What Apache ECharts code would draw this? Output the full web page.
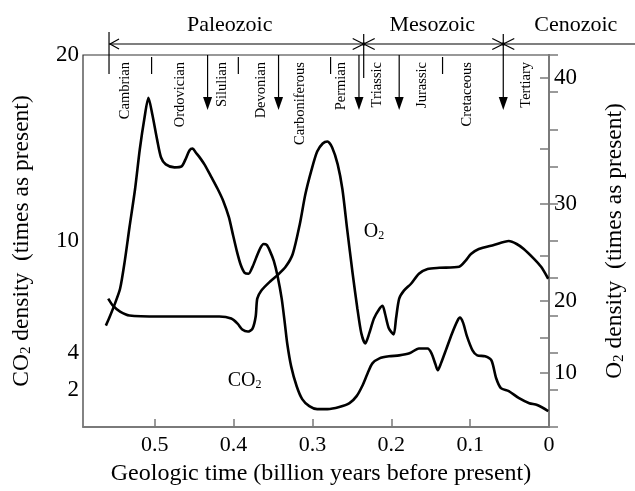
<!DOCTYPE html>
<html>
<head>
<meta charset="utf-8">
<script src="https://cdn.jsdelivr.net/npm/echarts@6/dist/echarts.min.js"></script>
<style>
  html, body { margin: 0; padding: 0; background: #fff; }
  #chart { width: 635px; height: 491px; }
</style>
</head>
<body>
<div id="chart"></div>
<script>
// Time axis: billion years before present
const co2Time = [0.562, 0.557, 0.551, 0.544, 0.538, 0.532, 0.525, 0.519, 0.513, 0.508, 0.503, 0.497, 0.492, 0.486,
  0.475, 0.466, 0.461, 0.456, 0.452, 0.448, 0.444, 0.437, 0.428, 0.420, 0.413, 0.406, 0.401, 0.396, 0.391, 0.386,
  0.381, 0.376, 0.371, 0.366, 0.362, 0.358, 0.354, 0.349, 0.344, 0.339, 0.335, 0.332, 0.327, 0.320, 0.313, 0.304,
  0.294, 0.281, 0.266, 0.253, 0.244, 0.237, 0.230, 0.224, 0.215, 0.203, 0.190, 0.177, 0.165, 0.154, 0.149, 0.144,
  0.141, 0.137, 0.130, 0.123, 0.116, 0.113, 0.109, 0.104, 0.097, 0.091, 0.081, 0.073, 0.067, 0.061, 0.051, 0.038,
  0.025, 0.015, 0.001];
const co2Value = [5.45, 5.94, 6.58, 7.43, 8.93, 10.75, 12.78, 14.92, 16.63, 17.70, 16.79, 15.45, 14.49, 14.12,
  13.96, 14.01, 14.39, 14.87, 14.97, 14.76, 14.55, 14.12, 13.42, 12.78, 12.14, 11.28, 10.37, 9.47, 8.72, 8.29,
  8.24, 8.61, 9.14, 9.63, 9.84, 9.79, 9.47, 8.93, 8.07, 6.90, 5.56, 4.49, 3.26, 2.19, 1.50, 1.12,
  0.96, 0.96, 1.07, 1.28, 1.66, 2.19, 2.89, 3.42, 3.69, 3.80, 3.85, 3.96, 4.22, 4.22, 3.96, 3.37,
  3.05, 3.42, 4.22, 5.03, 5.72, 5.88, 5.61, 4.87, 4.12, 3.85, 3.80, 3.58, 2.62, 2.09, 1.93, 1.55,
  1.28, 1.18, 0.86];

const o2Time = [0.559, 0.553, 0.544, 0.532, 0.494, 0.443, 0.418, 0.403, 0.395, 0.389, 0.382, 0.376, 0.372, 0.370,
  0.365, 0.354, 0.344, 0.334, 0.325, 0.316, 0.309, 0.301, 0.294, 0.287, 0.281, 0.275, 0.268, 0.262, 0.256, 0.249,
  0.243, 0.238, 0.233, 0.228, 0.222, 0.215, 0.211, 0.208, 0.203, 0.197, 0.194, 0.190, 0.184, 0.175, 0.165, 0.154,
  0.139, 0.114, 0.106, 0.099, 0.089, 0.070, 0.051, 0.041, 0.032, 0.019, 0.010, 0.001];
const o2Value = [20.23, 19.32, 18.51, 17.98, 17.85, 17.85, 17.85, 17.58, 16.89, 16.09, 15.81, 16.21, 17.85, 20.23,
  21.12, 22.12, 22.88, 23.78, 25.18, 28.08, 30.89, 33.13, 34.73, 35.36, 35.50, 35.08, 33.58, 31.34, 27.59, 23.01,
  18.91, 15.56, 14.17, 15.56, 17.58, 18.91, 19.32, 18.26, 16.21, 15.42, 17.58, 20.23, 21.12, 21.89, 23.01, 23.55,
  23.67, 23.78, 24.44, 25.18, 25.67, 26.06, 26.44, 26.15, 25.67, 24.67, 23.78, 22.45];

const timeTicks = [0, 0.1, 0.2, 0.3, 0.4, 0.5];
const co2TickLabels = [2, 4, 10, 20];
const o2TickLabels = [10, 20, 30, 40];
const o2TickMarks = [10, 15, 20, 25, 30, 35, 40];

// The O2 axis is drawn on a stretched scale: O2 value -> position on the shared 0–20 frame
const o2ScaleValue = [0, 10, 15, 20, 25, 30, 35, 40, 41.6];
const o2ScalePos = [0, 2.89, 4.81, 6.79, 9.2, 11.98, 14.97, 18.77, 20];

// Geologic eras and periods
const eraNames = ['Paleozoic', 'Mesozoic', 'Cenozoic'];
const eraStart = [0.558, 0.235, 0.058];
const eraLabelTime = [0.405, 0.148, -0.034];
const periodNames = ['Cambrian', 'Ordovician', 'Silulian', 'Devonian', 'Carboniferous', 'Permian',
  'Triassic', 'Jurassic', 'Cretaceous', 'Tertiary'];
const periodLabelTime = [0.537, 0.468, 0.415, 0.365, 0.316, 0.263, 0.218, 0.161, 0.104, 0.029];
const boundaryTime = [0.504, 0.433, 0.394, 0.343, 0.277, 0.241, 0.190, 0.135, 0.058];
const boundaryKind = ['tick', 'arrow', 'tick', 'arrow', 'tick', 'arrow', 'arrow', 'tick', 'arrow'];

function interp(xs, ys, v) {
  for (let i = 1; i < xs.length; i++) {
    if (v <= xs[i] || i === xs.length - 1) {
      const f = (v - xs[i - 1]) / (xs[i] - xs[i - 1]);
      return ys[i - 1] + f * (ys[i] - ys[i - 1]);
    }
  }
  return ys[ys.length - 1];
}
const o2ToPos = v => interp(o2ScaleValue, o2ScalePos, v);
const posToO2 = p => interp(o2ScalePos, o2ScaleValue, p);

const SERIF = '"Liberation Serif", "DejaVu Serif", serif';
const AXIS_GREY = '#7a7a7a';

const subRich = size => ({
  t: { fontFamily: SERIF, fontSize: size, color: '#000', verticalAlign: 'middle' },
  s: { fontFamily: SERIF, fontSize: Math.round(size * 0.62), color: '#000', verticalAlign: 'bottom' }
});

const chart = echarts.init(document.getElementById('chart'), null, { renderer: 'canvas' });

const option = {
  animation: false,
  backgroundColor: '#fff',
  grid: { left: 83, right: 85, top: 55, bottom: 62, show: true, borderColor: '#333', borderWidth: 1.2 },
  xAxis: {
    type: 'value', inverse: true, min: 0, max: 0.591,
    axisLine: { lineStyle: { color: AXIS_GREY, width: 2 } },
    axisTick: { inside: true, length: 8, customValues: timeTicks, lineStyle: { color: AXIS_GREY, width: 1.5 } },
    axisLabel: {
      customValues: timeTicks, margin: 7, color: '#000', fontFamily: SERIF, fontSize: 22,
      formatter: v => (v === 0 ? '0' : v.toFixed(1))
    },
    splitLine: { show: false },
    name: 'Geologic time (billion years before present)',
    nameLocation: 'middle', nameGap: 35,
    nameTextStyle: { fontFamily: SERIF, fontSize: 24, color: '#000', padding: [0, 0, 0, 10] }
  },
  yAxis: [
    {
      type: 'value', min: 0, max: 20, interval: 2, position: 'left',
      axisLine: { show: true, lineStyle: { color: AXIS_GREY, width: 2 } },
      axisTick: { show: true, inside: true, length: 9, lineStyle: { color: AXIS_GREY, width: 1.5 } },
      axisLabel: {
        margin: 4, color: '#000', fontFamily: SERIF, fontSize: 23,
        formatter: v => (co2TickLabels.indexOf(v) >= 0 ? String(v) : '')
      },
      splitLine: { show: false },
      name: '{t|CO}{s|2}{t| density  (times as present)}',
      nameLocation: 'middle', nameRotate: 90, nameGap: 49,
      nameTextStyle: { rich: subRich(23.5) }
    },
    {
      type: 'value', min: 0, max: 20, position: 'right',
      axisLine: { show: true, lineStyle: { color: AXIS_GREY, width: 2 } },
      axisTick: { show: true, inside: true, length: 9, customValues: o2TickMarks.map(o2ToPos),
        lineStyle: { color: AXIS_GREY, width: 1.5 } },
      axisLabel: {
        customValues: o2TickLabels.map(o2ToPos), margin: 5, color: '#000', fontFamily: SERIF, fontSize: 23,
        formatter: v => String(Math.round(posToO2(v)))
      },
      splitLine: { show: false },
      name: '{t|O}{s|2}{t| density  (times as present)}',
      nameLocation: 'middle', nameRotate: 90, nameGap: 54,
      nameTextStyle: { rich: subRich(23.5) }
    }
  ],
  series: [
    {
      name: 'CO2', type: 'line', yAxisIndex: 0, showSymbol: false, smooth: 0.25,
      lineStyle: { color: '#000', width: 2.6 },
      data: co2Time.map((t, i) => [t, co2Value[i]])
    },
    {
      name: 'O2', type: 'line', yAxisIndex: 1, showSymbol: false, smooth: 0.25,
      lineStyle: { color: '#000', width: 2.6 },
      data: o2Time.map((t, i) => [t, o2ToPos(o2Value[i])])
    }
  ]
};
chart.setOption(option);

// Era / period header drawn above the plot frame
const px = t => chart.convertToPixel({ xAxisIndex: 0 }, t);
const frameTop = chart.convertToPixel({ yAxisIndex: 0 }, 20);
const eraY = frameTop - 11;
const black = { stroke: '#000', lineWidth: 1.2 };
const g = [];

g.push({ type: 'line', shape: { x1: px(eraStart[0]), y1: eraY, x2: 635, y2: eraY }, style: black });
g.push({ type: 'polyline', shape: { points: [[px(eraStart[0]) + 10, eraY - 5], [px(eraStart[0]) + 1, eraY], [px(eraStart[0]) + 10, eraY + 5]] }, style: black });
g.push({ type: 'line', shape: { x1: px(eraStart[0]), y1: eraY - 12, x2: px(eraStart[0]), y2: frameTop + 19 }, style: black });
for (let i = 1; i < eraStart.length; i++) {
  const x = px(eraStart[i]);
  g.push({ type: 'line', shape: { x1: x - 11, y1: eraY - 5.5, x2: x + 11, y2: eraY + 5.5 }, style: black });
  g.push({ type: 'line', shape: { x1: x - 11, y1: eraY + 5.5, x2: x + 11, y2: eraY - 5.5 }, style: black });
  g.push({ type: 'circle', shape: { cx: x, cy: eraY, r: 1.8 }, style: { fill: '#000' } });
  if (boundaryTime.indexOf(eraStart[i]) < 0) {
    g.push({ type: 'line', shape: { x1: x, y1: eraY - 10, x2: x, y2: frameTop + 23 }, style: black });
  }
}
eraNames.forEach((name, i) => {
  g.push({ type: 'text', x: px(eraLabelTime[i]), y: 25,
    style: { text: name, fontFamily: SERIF, fontSize: 22, fill: '#000', align: 'center', verticalAlign: 'middle' } });
});

boundaryTime.forEach((t, i) => {
  const x = px(t);
  if (boundaryKind[i] === 'tick') {
    g.push({ type: 'line', shape: { x1: x, y1: frameTop + 2, x2: x, y2: frameTop + 19 }, style: black });
  } else {
    const startY = eraStart.indexOf(t) > 0 ? eraY - 10 : frameTop;
    g.push({ type: 'line', shape: { x1: x, y1: startY, x2: x, y2: frameTop + 44 }, style: black });
    g.push({ type: 'polygon', shape: { points: [[x - 4.5, frameTop + 42], [x + 4.5, frameTop + 42], [x, frameTop + 55]] },
      style: { fill: '#000' } });
  }
});

periodNames.forEach((name, i) => {
  g.push({ type: 'text', x: px(periodLabelTime[i]), y: frameTop + 7, rotation: Math.PI / 2,
    style: { text: name, fontFamily: SERIF, fontSize: 14.5, fill: '#000', align: 'right', verticalAlign: 'middle' } });
});

// Curve names placed next to their lines
const o2Pos = chart.convertToPixel({ gridIndex: 0 }, [0.222, 10.5]);
const co2Pos = chart.convertToPixel({ gridIndex: 0 }, [0.386, 2.5]);
g.push({ type: 'text', x: o2Pos[0], y: o2Pos[1],
  style: { text: '{t|O}{s|2}', rich: subRich(20), align: 'center', verticalAlign: 'middle' } });
g.push({ type: 'text', x: co2Pos[0], y: co2Pos[1],
  style: { text: '{t|CO}{s|2}', rich: subRich(20), align: 'center', verticalAlign: 'middle' } });

chart.setOption({ graphic: { elements: g } });
</script>
</body>
</html>
